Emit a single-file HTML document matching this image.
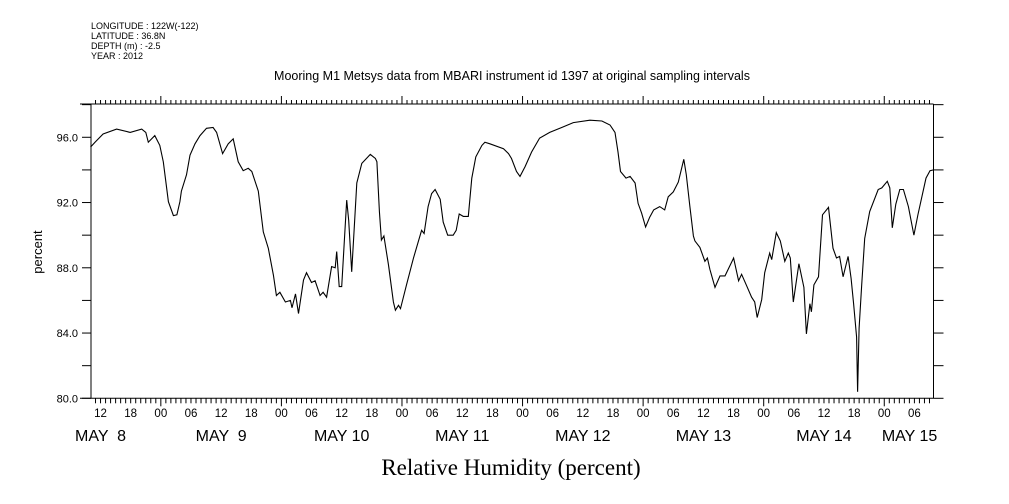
<!DOCTYPE html>
<html><head><meta charset="utf-8"><style>
html,body{margin:0;padding:0;background:#fff;}
svg{display:block;font-family:"Liberation Sans",sans-serif;}
</style></head><body>
<svg id="chart" width="1009" height="504" viewBox="0 0 1009 504" xmlns="http://www.w3.org/2000/svg">
<g font-size="9" fill="#000">
<text x="91" y="29">LONGITUDE : 122W(-122)</text>
<text x="91" y="39">LATITUDE : 36.8N</text>
<text x="91" y="49">DEPTH (m) : -2.5</text>
<text x="91" y="59">YEAR : 2012</text>
</g>
<text x="512" y="80" text-anchor="middle" font-size="12.5">Mooring M1 Metsys data from MBARI instrument id 1397 at original sampling intervals</text>
<text x="511" y="475" text-anchor="middle" font-size="23" font-family="Liberation Serif, serif">Relative Humidity (percent)</text>
<text transform="translate(42,252) rotate(-90)" text-anchor="middle" font-size="13">percent</text>
<g id="axes"></g>
<path id="line" fill="none" stroke="#000" stroke-width="1.1"></path>
</svg>
<script>
const hours = [10.0,10.9,12.5,15.2,17.9,20.2,21,21.5,22.8,23.8,24.5,25.5,26.5,27.2,27.8,28.1,29.1,29.8,30.8,31.8,33.1,34.4,35.1,36.3,37.4,38.4,39.4,40.4,41.4,42.1,43.4,44.4,45.4,46.4,47.0,47.7,48.8,49.8,50.1,50.8,51.4,52.4,53.0,54.0,54.7,55.7,56.3,57.0,58.0,58.7,59.0,59.5,60.0,61.0,61.4,62.0,62.5,63.0,64.0,65.7,66.7,67.0,67.5,67.9,68.4,69.3,70.3,70.7,71.3,71.7,72.9,74.3,75.9,76.4,77.2,77.9,78.6,79.6,80.2,81.1,82.2,82.8,83.4,84.2,85.2,85.9,86.7,87.9,88.5,89.5,92.2,93.2,93.8,94.8,95.5,96.5,97.8,99.4,101.4,103.8,106.1,109.4,111.8,113.4,114.4,115.0,115.5,116.6,117.4,118.4,119.0,119.7,120.5,121.3,122.1,123.3,124.3,125.0,126.0,127.0,128.1,128.6,129.3,130.0,130.3,131.3,132.3,132.8,133.3,134.3,135.3,136.3,138.0,139.0,139.6,140.6,141.6,142.2,142.7,143.6,144.2,145.2,145.6,146.5,147.3,148.2,148.9,149.3,149.9,151.0,152.0,152.5,153.2,153.5,154.0,154.9,155.7,156.9,157.8,158.5,159.1,159.8,160.8,161.4,161.9,162.5,162.7,163.0,163.5,164.1,165.1,166.8,167.5,168.6,169.1,169.6,170.3,171.1,171.8,172.8,173.9,174.7,176.3,177.1,177.8];
const humidity = [95.4,95.7,96.2,96.5,96.3,96.5,96.3,95.7,96.1,95.5,94.5,92.05,91.2,91.25,92.05,92.7,93.7,94.9,95.6,96.1,96.55,96.6,96.3,95.0,95.6,95.9,94.5,93.95,94.1,93.9,92.7,90.2,89.2,87.55,86.3,86.5,85.9,86.0,85.55,86.4,85.2,87.25,87.7,87.1,87.2,86.3,86.5,86.2,88.07,88.0,89.0,86.85,86.85,92.15,90.9,87.75,90.4,93.2,94.4,94.95,94.7,94.5,91.45,89.7,89.95,88.2,85.9,85.4,85.7,85.5,86.95,88.6,90.3,90.1,91.75,92.55,92.8,92.2,90.8,90.0,90.0,90.3,91.3,91.15,91.15,93.5,94.8,95.5,95.7,95.6,95.3,95.0,94.7,93.9,93.6,94.2,95.1,95.95,96.3,96.6,96.9,97.05,97.0,96.75,96.3,95.1,93.9,93.5,93.6,93.2,91.95,91.35,90.5,91.1,91.55,91.75,91.55,92.35,92.65,93.25,94.65,93.7,91.8,89.95,89.65,89.25,88.4,88.6,87.9,86.8,87.5,87.5,88.6,87.2,87.6,86.9,86.2,85.9,84.95,86.05,87.7,88.9,88.5,90.15,89.65,88.4,88.9,88.6,85.9,88.25,86.8,83.95,85.8,85.3,86.95,87.45,91.25,91.7,89.2,88.6,88.7,87.45,88.7,87.35,85.8,83.75,80.4,84.3,86.95,89.8,91.45,92.8,92.9,93.3,92.9,90.45,91.9,92.8,92.8,91.75,90.0,91.25,93.5,93.95,94.0];
const yTickLabels = ["80.0","84.0","88.0","92.0","96.0"];
const dayLabels = ["MAY  8","MAY  9","MAY 10","MAY 11","MAY 12","MAY 13","MAY 14","MAY 15"];

const X0=91,X1=933.5,Y0=398.3,Y1=104;
const T0=10.1,T1=177.8,V0=80,V1=98.04;
const xs=t=>X0+(t-T0)*(X1-X0)/(T1-T0);
const ys=v=>Y0-(v-V0)*(Y0-Y1)/(V1-V0);
const NS="http://www.w3.org/2000/svg";
const axes=document.getElementById('axes');
function ln(x1,y1,x2,y2,name){const l=document.createElementNS(NS,'line');
l.setAttribute('x1',x1);l.setAttribute('y1',y1);l.setAttribute('x2',x2);l.setAttribute('y2',y2);
l.setAttribute('stroke','#000');l.setAttribute('stroke-width','1');


axes.appendChild(l);return l;}
function tx(x,y,s,size,anchor,name){const t=document.createElementNS(NS,'text');
t.setAttribute('x',x);t.setAttribute('y',y);t.setAttribute('font-size',size);t.setAttribute('text-anchor',anchor);t.textContent=s;


axes.appendChild(t);return t;}
// frame
ln(80,Y1,X1,Y1,'top-axis-line');
ln(80,Y0,X1,Y0,'bottom-axis-line');
ln(X0,Y1,X0,Y0,'left-axis-line');
ln(X1,Y1,X1,Y0,'right-axis-line');
// y ticks
for(let v=80;v<=98;v+=2){const y=ys(v);
 ln(82,y,X0,y,'y-tick');ln(X1,y,X1+10,y,'y-tick-right');}
yTickLabels.forEach(s=>{tx(78,ys(parseFloat(s))+4,s,11,'end','y-tick-label');});
// x ticks
for(let h=Math.ceil(T0);h<=T1;h++){const x=xs(h);const day=h%24===0;
 ln(x,Y1,x,Y1-(day?8:4),'x-tick-top');
 ln(x,Y0,x,Y0+(day?8:5),'x-tick');
 if(h%6===0){tx(x,417,String(h%24).padStart(2,'0'),11.5,'middle','x-tick-label');}}
dayLabels.forEach((s,i)=>{const t=tx(xs(i*24+12)+(i===7?-35:0),441,s,16,'middle','day-label');t.setAttribute('xml:space','preserve');t.style.whiteSpace='pre';});
// line
let d='';hours.forEach((h,i)=>{d+=(i?'L':'M')+xs(h).toFixed(1)+','+ys(humidity[i]).toFixed(1);});
document.getElementById('line').setAttribute('d',d);
</script>
</body></html>
